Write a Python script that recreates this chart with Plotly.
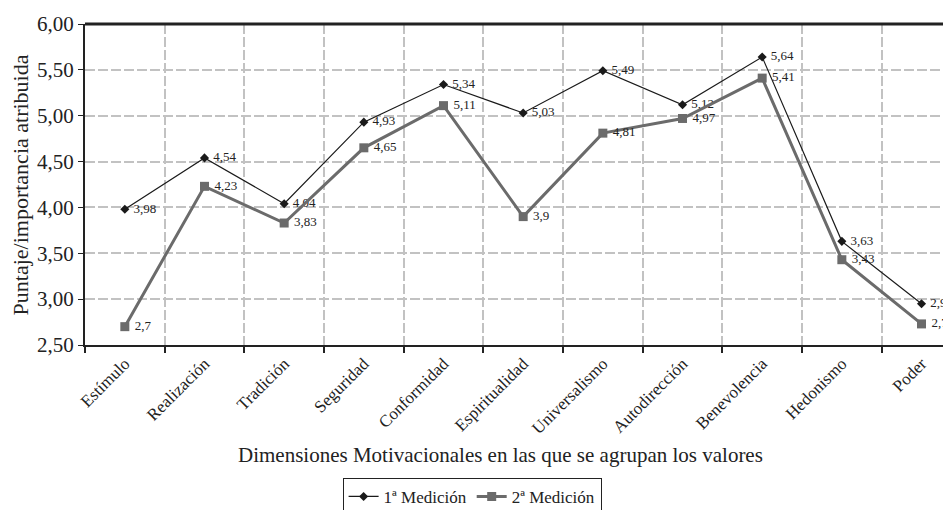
import plotly.graph_objects as go

categories = ["Estímulo", "Realización", "Tradición", "Seguridad", "Conformidad",
              "Espiritualidad", "Universalismo", "Autodirección", "Benevolencia",
              "Hedonismo", "Poder"]
medicion1 = [3.98, 4.54, 4.04, 4.93, 5.34, 5.03, 5.49, 5.12, 5.64, 3.63, 2.95]
medicion2 = [2.7, 4.23, 3.83, 4.65, 5.11, 3.9, 4.81, 4.97, 5.41, 3.43, 2.73]
y_ticks = [2.5, 3.0, 3.5, 4.0, 4.5, 5.0, 5.5, 6.0]

def fmt(v):
    s = ("%.2f" % v).rstrip("0").rstrip(".")
    return " " + s.replace(".", ",")

FONT = "Liberation Serif, Times New Roman, serif"
TXT = "#222222"
GRID = "#c2c2c2"

fig = go.Figure()
fig.add_trace(go.Scatter(
    x=categories, y=medicion1, name="1ª Medición", mode="lines+markers+text",
    line=dict(color="#1a1a1a", width=1.2),
    marker=dict(symbol="diamond", size=7, color="#1a1a1a"),
    text=[fmt(v) for v in medicion1], textposition="middle right",
    textfont=dict(family=FONT, size=13, color=TXT),
    cliponaxis=False,
))
fig.add_trace(go.Scatter(
    x=categories, y=medicion2, name="2ª Medición", mode="lines+markers+text",
    line=dict(color="#6b6b6b", width=3),
    marker=dict(symbol="square", size=9, color="#6b6b6b"),
    text=[fmt(v) for v in medicion2], textposition="middle right",
    textfont=dict(family=FONT, size=13, color=TXT),
    cliponaxis=False,
))

fig.update_layout(
    width=943, height=540,
    margin=dict(l=77, r=0, t=16, b=203),
    paper_bgcolor="white", plot_bgcolor="white",
    font=dict(family=FONT, color=TXT),
    separators=", ",
    showlegend=True,
    legend=dict(orientation="h", x=0.447, xanchor="center", y=-0.414, yanchor="top",
                bordercolor=TXT, borderwidth=1, font=dict(size=17, color=TXT),
                itemwidth=30, tracegroupgap=0, bgcolor="white"),
    xaxis=dict(
        type="category", range=[-0.5, 10.37], automargin=False,
        tickson="boundaries", ticks="outside", ticklen=6, tickcolor=TXT, tickwidth=1.5,
        showgrid=True, gridcolor=GRID, griddash="10px,3px", gridwidth=1.5,
        showline=True, linecolor=TXT, linewidth=2,
        tickangle=-45, tickfont=dict(size=17, color=TXT),
    ),
    yaxis=dict(
        range=[2.5, 6.0], tickvals=y_ticks, tickformat=".2f", automargin=False,
        showgrid=True, gridcolor=GRID, griddash="10px,3px", gridwidth=1.5,
        showline=True, linecolor=TXT, linewidth=2,
        ticks="outside", ticklen=5, tickcolor=TXT,
        tickfont=dict(size=21, color=TXT),
        zeroline=False,
    ),
    annotations=[
        dict(text="Dimensiones Motivacionales en las que se agrupan los valores",
             xref="paper", yref="paper", x=0.48, y=-0.343, xanchor="center", yanchor="middle",
             showarrow=False, font=dict(size=21, color=TXT)),
        dict(text="Puntaje/importancia atribuida", textangle=-90,
             xref="paper", yref="paper", x=-0.074, y=0.5, xanchor="center", yanchor="middle",
             showarrow=False, font=dict(size=22, color=TXT)),
    ],
)
fig.add_shape(type="line", xref="paper", yref="paper", x0=0, x1=1, y0=1, y1=1,
              line=dict(color=TXT, width=3))

fig.write_html("out.html")
